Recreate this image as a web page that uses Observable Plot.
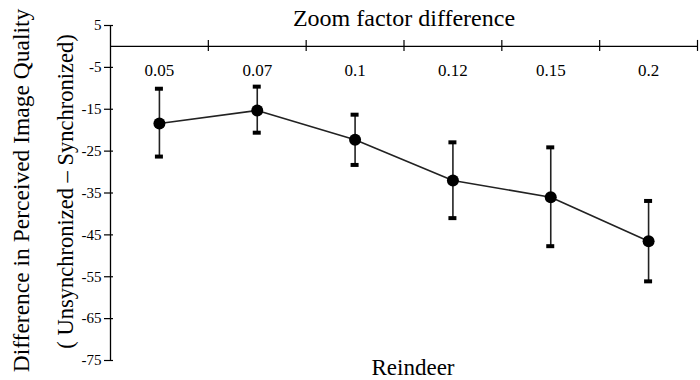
<!DOCTYPE html>
<html><head><meta charset="utf-8">
<script src="https://cdn.jsdelivr.net/npm/d3@7"></script>
<script src="https://cdn.jsdelivr.net/npm/@observablehq/plot@0.6"></script>
<style>body{margin:0;background:#fff} svg text{font-family:'Liberation Serif','Times New Roman',serif}</style>
</head><body><div id="chart"></div>
<script>
const categories = ["0.05", "0.07", "0.1", "0.12", "0.15", "0.2"];
const means = [-18.4, -15.3, -22.3, -32.0, -36.0, -46.5];
const upper = [-10.1, -9.6, -16.3, -22.9, -24.1, -36.9];
const lower = [-26.3, -20.6, -28.3, -41.0, -47.7, -56.1];
const yTicks = [5, -5, -15, -25, -35, -45, -55, -65, -75];
const topTitle = "Zoom factor difference";
const bottomTitle = "Reindeer";
const yTitle1 = "Difference in Perceived Image Quality";
const yTitle2 = "( Unsynchronized \u2013 Synchronized)";

const data = categories.map((c, i) => ({i, c, mean: means[i], hi: upper[i], lo: lower[i]}));
const boundaries = d3.range(categories.length + 1).map(k => k - 0.5);
const serif = "'Liberation Serif', 'Times New Roman', serif";

const chart = Plot.plot({
  width: 700, height: 380,
  marginLeft: 110, marginRight: 3, marginTop: 25, marginBottom: 20,
  style: {fontFamily: serif, color: "#000", background: "#fff", overflow: "visible"},
  x: {domain: [-0.5, categories.length - 0.5], axis: null},
  y: {domain: [-75, 5], axis: null},
  marks: [
    Plot.ruleY(yTicks, {y: d => d, x1: -0.5, x2: -0.5, insetLeft: -6, insetRight: -3, strokeWidth: 1.2}),
    Plot.text(yTicks, {y: d => d, x: -0.5, text: d => String(d), dx: -9, textAnchor: "end", lineAnchor: "middle", fontSize: 15, fontFamily: serif, letterSpacing: -1.5, fill: "#000"}),
    Plot.ruleX([-0.5], {y1: -75, y2: 5, strokeWidth: 1.3}),
    Plot.ruleY([0], {x1: -0.5, x2: categories.length - 0.5, strokeWidth: 1.3}),
    Plot.ruleX(boundaries.slice(1), {x: d => d, y1: 0, y2: 0, insetTop: -6, insetBottom: -5, strokeWidth: 1.2}),
    Plot.text(data, {x: "i", y: 0, text: "c", dy: 24, fontSize: 17, fontFamily: serif, letterSpacing: -1.5, lineAnchor: "middle"}),
    Plot.ruleX(data, {x: "i", y1: "lo", y2: "hi", stroke: "#222", strokeWidth: 1.6}),
    Plot.ruleY(data, {y: "hi", x1: "i", x2: "i", insetLeft: -4, insetRight: -4, strokeWidth: 4, stroke: "#000"}),
    Plot.ruleY(data, {y: "lo", x1: "i", x2: "i", insetLeft: -4, insetRight: -4, strokeWidth: 4, stroke: "#000"}),
    Plot.line(data, {x: "i", y: "mean", stroke: "#222", strokeWidth: 1.6}),
    Plot.dot(data, {x: "i", y: "mean", r: 6, fill: "#000", stroke: "none"}),
    Plot.text([topTitle], {frameAnchor: "top", dy: -7, fontSize: 24, fontFamily: serif, lineAnchor: "middle"}),
    Plot.text([bottomTitle], {frameAnchor: "bottom", dx: 9, dy: 7, fontSize: 23, fontFamily: serif, lineAnchor: "middle"}),
    Plot.text([yTitle1], {frameAnchor: "left", textAnchor: "middle", dx: -89, dy: -2.5, rotate: -90, fontSize: 23.5, fontFamily: serif, lineAnchor: "middle"}),
    Plot.text([yTitle2], {frameAnchor: "left", textAnchor: "middle", dx: -45, dy: -1.5, rotate: -90, fontSize: 22.5, fontFamily: serif, lineAnchor: "middle"})
  ]
});
document.getElementById("chart").append(chart);
</script>
</body></html>
